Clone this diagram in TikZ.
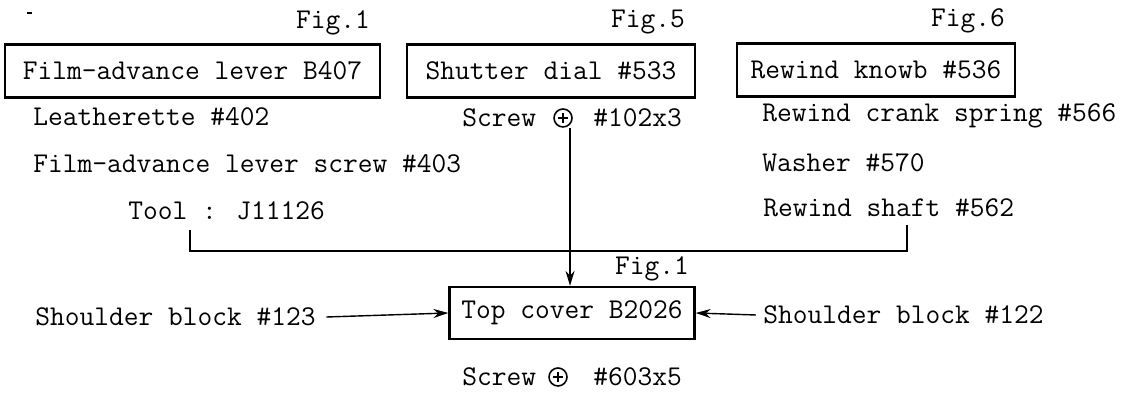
\documentclass[tikz,border=0pt]{standalone}
\usetikzlibrary{arrows.meta}
\begin{document}
\begin{tikzpicture}[>={Stealth[length=3mm, width=1.8mm]}, x=0.02cm, y=-0.02cm, font=\ttfamily\fontsize{16.3}{18}\selectfont]
      \tikzset{part/.style={draw, line width=1.3pt, minimum height=1.06cm, inner sep=0pt},
               lbl/.style={anchor=west, inner sep=0pt},
               plus/.style={draw, circle, line width=0.9pt, inner sep=0pt, minimum size=0.36cm,
                 path picture={\draw[line width=0.9pt] (path picture bounding box.center) ++(-0.1cm,0) -- ++(0.2cm,0)
                   (path picture bounding box.center) ++(0,-0.1cm) -- ++(0,0.2cm);}}}
      \useasboundingbox (0,0) rectangle (1133,394);
      \draw[line width=1.5pt] (27,13) -- (32,13);
      % top row
      \node (figa) at (333,23) {Fig.1};
      \node (figb) at (648,22) {Fig.5};
      \node (figc) at (968,21) {Fig.6};
      \node[part, minimum width=7.5cm] (lever) at (192.5,71) {Film-advance lever B407};
      \node[part, minimum width=5.76cm] (dial) at (551,71) {Shutter dial \#533};
      \node[part, minimum width=5.56cm] (knob) at (876,70) {Rewind knowb \#536};
      % left column
      \node[lbl] (leath) at (33,117) {Leatherette \#402};
      \node[lbl] (lscrew) at (33,164) {Film-advance lever screw \#403};
      \node[lbl] (tool) at (128,211) {Tool :  J11126};
      % middle column
      \node[lbl] (screwa) at (462,118) {Screw};
      \node[plus] (plusa) at (563,118) {};
      \node[lbl] (numa) at (593,118) {\#102x3};
      % right column
      \node[lbl] (spring) at (762,116) {Rewind crank spring \#566};
      \node[lbl] (washer) at (762,163) {Washer \#570};
      \node[lbl] (shaft) at (763,208) {Rewind shaft \#562};
      % bottom row
      \node (figd) at (652,269) {Fig.1};
      \node[part, minimum width=4.9cm, minimum height=1.04cm] (cover) at (572,313) {Top cover B2026};
      \node[lbl] (blocka) at (35,317) {Shoulder block \#123};
      \node[lbl] (blockb) at (763,315) {Shoulder block \#122};
      \node[lbl] (screwb) at (462,377) {Screw};
      \node[plus] (plusb) at (558,377) {};
      \node[lbl] (numb) at (593,377) {\#603x5};
      \coordinate (bl) at (190,251);
      \coordinate (br) at (907,251);
      \draw[line width=0.8pt] (bl |- 0,230) -- (bl) -- (br) -- (br |- 0,225);
      \draw[->, line width=0.8pt] ([xshift=4]plusa.south) -- ([xshift=4]plusa.south |- cover.north);
      \draw[->, line width=0.8pt] ([xshift=6]blocka.east) -- (cover.west);
      \draw[->, line width=0.8pt] ([xshift=-4]blockb.west) -- (cover.east);
    \end{tikzpicture}
\end{document}
